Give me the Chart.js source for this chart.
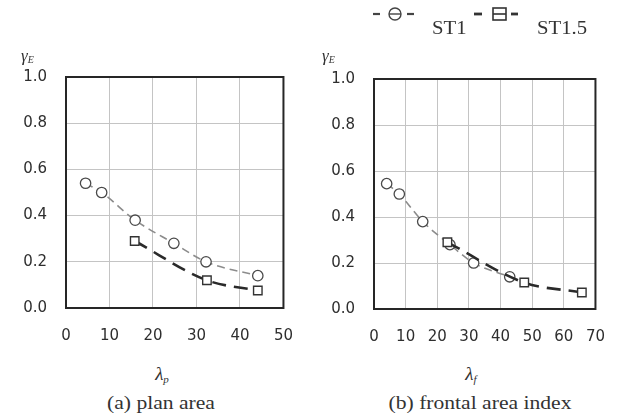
<!DOCTYPE html>
<html>
<head>
<meta charset="utf-8">
<script src="https://cdn.jsdelivr.net/npm/chart.js@4"></script>
<style>
  html, body { margin:0; padding:0; background:#fff; }
  #wrap { position:relative; width:624px; height:416px; overflow:hidden; background:#fff; }
  canvas { position:absolute; top:0; }
  .t { position:absolute; color:#333; font-family:"Liberation Serif","Times New Roman",serif; white-space:nowrap; }
  .c { transform:translate(-50%,-50%); }
  .cap { font-size:18px; }
  .cap span { display:inline-block; transform:scaleX(1.2); }
  .lam { font-size:19px; font-style:italic; }
  .lam sub { font-size:11px; vertical-align:-3px; }
  .gam { font-size:17px; font-style:italic; line-height:17px; }
  .gam sub { font-size:10px; vertical-align:-2px; }
  .leg { font-size:18px; }
  .leg span { display:inline-block; transform:scaleX(1.15); transform-origin:left center; }
  svg { position:absolute; }
</style>
</head>
<body>
<div id="wrap">
  <canvas id="cA" width="312" height="350" style="left:0;width:312px;height:350px"></canvas>
  <canvas id="cB" width="312" height="350" style="left:312px;width:312px;height:350px"></canvas>

  <div class="t gam" style="left:21px;top:47px">γ<sub>E</sub></div>
  <div class="t gam" style="left:322px;top:47px">γ<sub>E</sub></div>

  <div class="t lam c" style="left:162px;top:374px">λ<sub>p</sub></div>
  <div class="t lam c" style="left:471px;top:374px">λ<sub>f</sub></div>

  <div class="t cap c" style="left:161px;top:403px"><span>(a) plan area</span></div>
  <div class="t cap c" style="left:480px;top:403px"><span>(b) frontal area index</span></div>

  <svg style="left:370px;top:4px" width="50" height="22">
    <line x1="3" y1="10" x2="10" y2="10" stroke="#444" stroke-width="2.2"/>
    <circle cx="25" cy="10" r="6" fill="#fff" stroke="#444" stroke-width="1.4"/>
    <line x1="19" y1="10" x2="31" y2="10" stroke="#444" stroke-width="1.4"/>
    <line x1="37" y1="10" x2="44" y2="10" stroke="#444" stroke-width="2.2"/>
  </svg>
  <div class="t leg" style="left:432px;top:18px"><span>ST1</span></div>

  <svg style="left:472px;top:4px" width="50" height="22">
    <line x1="2" y1="10" x2="10" y2="10" stroke="#333" stroke-width="2.8"/>
    <rect x="21" y="4" width="13" height="12" fill="#fff" stroke="#333" stroke-width="1.6"/>
    <line x1="21" y1="10" x2="34" y2="10" stroke="#333" stroke-width="1.6"/>
    <line x1="39" y1="10" x2="46" y2="10" stroke="#333" stroke-width="2.8"/>
  </svg>
  <div class="t leg" style="left:537px;top:18px"><span>ST1.5</span></div>
</div>

<script>
// ---- data ----
const seriesNames = ["ST1", "ST1.5"];

// (a) plan area index lambda_p
const planST1_x  = [4.5, 8.2, 15.9, 24.8, 32.2, 44.1];
const planST1_y  = [0.54, 0.50, 0.38, 0.28, 0.20, 0.14];
const planST15_x = [15.8, 32.4, 44.1];
const planST15_y = [0.29, 0.12, 0.076];

// (b) frontal area index lambda_f
const frontST1_x  = [4.0, 8.0, 15.4, 24.0, 31.5, 42.9];
const frontST1_y  = [0.545, 0.50, 0.38, 0.28, 0.20, 0.14];
const frontST15_x = [23.2, 47.5, 65.7];
const frontST15_y = [0.29, 0.115, 0.072];

const xTicksA = [0, 10, 20, 30, 40, 50];
const xTicksB = [0, 10, 20, 30, 40, 50, 60, 70];
const yTicks  = [0.0, 0.2, 0.4, 0.6, 0.8, 1.0];

const pts = (xs, ys) => xs.map((x, i) => ({ x: x, y: ys[i] }));

const frameBox = {
  id: 'frameBox',
  afterDatasetsDraw(chart) {
    const a = chart.chartArea, c = chart.ctx;
    c.save();
    c.strokeStyle = '#262626';
    c.lineWidth = 2;
    c.strokeRect(a.left, a.top, a.right - a.left, a.bottom - a.top);
    c.restore();
  }
};

function makeChart(id, s1x, s1y, s2x, s2y, xTicks, xMax, geom) {
  const tickFont = { family: 'DejaVu Sans', size: 15 };
  return new Chart(document.getElementById(id), {
    type: 'scatter',
    data: {
      datasets: [
        {
          label: seriesNames[1],
          data: pts(s2x, s2y),
          showLine: true,
          borderColor: '#2a2a2a',
          borderWidth: 2.6,
          borderDash: [14, 8],
          cubicInterpolationMode: 'monotone',
          pointStyle: 'rect',
          pointRadius: 6,
          pointBackgroundColor: '#fff',
          pointBorderColor: '#333',
          pointBorderWidth: 1.4
        },
        {
          label: seriesNames[0],
          data: pts(s1x, s1y),
          showLine: true,
          borderColor: '#8c8c8c',
          borderWidth: 1.6,
          borderDash: [8, 5],
          cubicInterpolationMode: 'monotone',
          pointStyle: 'circle',
          pointRadius: 5.2,
          pointBackgroundColor: '#fff',
          pointBorderColor: '#4a4a4a',
          pointBorderWidth: 1.3
        }
      ]
    },
    options: {
      responsive: false,
      animation: false,
      devicePixelRatio: 1,
      layout: { padding: { left: 0, top: geom.top, right: geom.right, bottom: 0 } },
      plugins: { legend: { display: false }, tooltip: { enabled: false } },
      scales: {
        x: {
          type: 'linear', min: 0, max: xMax,
          afterBuildTicks: s => { s.ticks = xTicks.map(v => ({ value: v })); },
          afterFit: s => { s.height = geom.xh; },
          grid: { color: '#c4c4c4', lineWidth: 1, drawTicks: false },
          border: { display: false },
          ticks: { font: tickFont, color: '#2e2e2e', padding: 19, maxRotation: 0 }
        },
        y: {
          type: 'linear', min: 0, max: 1,
          afterBuildTicks: s => { s.ticks = yTicks.map(v => ({ value: v })); },
          afterFit: s => { s.width = geom.yw; },
          grid: { color: '#c4c4c4', lineWidth: 1, drawTicks: false },
          border: { display: false },
          ticks: { font: tickFont, color: '#2e2e2e', padding: 19, callback: v => v.toFixed(1) }
        }
      }
    },
    plugins: [frameBox]
  });
}

makeChart('cA', planST1_x, planST1_y, planST15_x, planST15_y, xTicksA, 50,
  { top: 77, right: 13, xh: 42, yw: 66 });
makeChart('cB', frontST1_x, frontST1_y, frontST15_x, frontST15_y, xTicksB, 70,
  { top: 79, right: 16, xh: 41, yw: 62 });
</script>
</body>
</html>
